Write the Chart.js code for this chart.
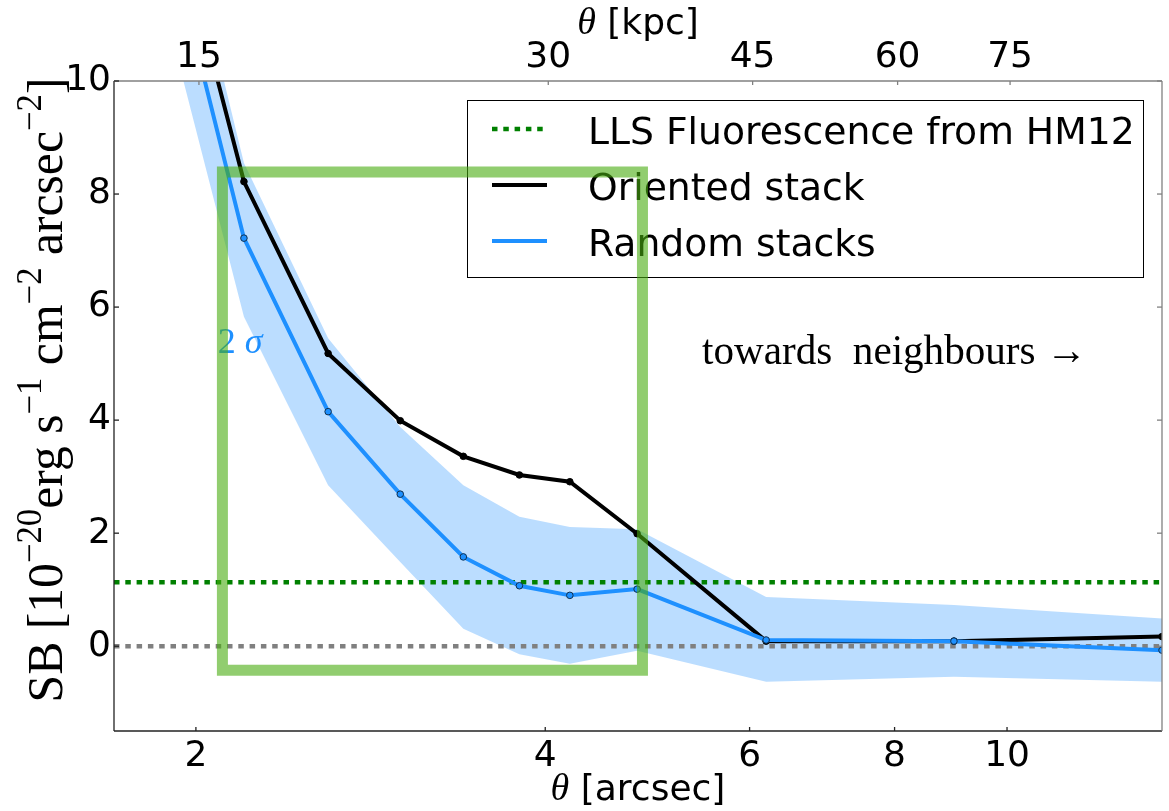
<!DOCTYPE html>
<html><head><meta charset="utf-8">
<script src="https://cdn.jsdelivr.net/npm/chart.js@4/dist/chart.umd.min.js"></script>
<style>html,body{margin:0;padding:0;background:#fff}canvas{display:block}</style>
</head><body>
<canvas id="c" width="1169" height="811"></canvas>
<script>
// ---------------- data ----------------
const thetaArcsec = [1.8, 2.2, 2.6, 3.0, 3.4, 3.8, 4.2, 4.8, 6.2, 9.0, 13.6];
const orientedSB  = [15.1, 8.22, 5.18, 3.99, 3.36, 3.03, 2.91, 1.99, 0.09, 0.09, 0.17];
const randomSB    = [14.4, 7.22, 4.15, 2.69, 1.58, 1.07, 0.90, 1.01, 0.11, 0.09, -0.07];
const randomUpper = [15.9, 8.55, 5.45, 3.88, 2.85, 2.29, 2.11, 2.07, 0.87, 0.73, 0.49];
const randomLower = [12.8, 5.83, 2.85, 1.49, 0.31, -0.14, -0.31, -0.08, -0.63, -0.54, -0.63];
const llsLevel = 1.13;
const zeroLevel = 0;
const xTicksArcsec = [2, 4, 6, 8, 10];
const xTicksKpc = [15, 30, 45, 60, 75];
const yTicks = [0, 2, 4, 6, 8, 10];
const kpcPerArcsec = 7.455;
const xRange = [1.7, 13.6];
const yRange = [-1.5, 10];
const boxRegionX = [2.108, 4.851];
const boxRegionY = [-0.425, 8.39];
const seriesLabels = ['LLS Fluorescence from HM12', 'Oriented stack', 'Random stacks'];
const bottomTitle = ['θ', ' [arcsec]'];
const topTitle = ['θ', ' [kpc]'];
const yTitleParts = [['SB [10', 0], ['−20', 1], ['erg s', 0], ['−1', 1], [' cm', 0], ['−2', 1], [' arcsec', 0], ['−2', 1], [']', 0]];
const sigmaText = ['2', ' σ'];
const neighbourText = 'towards  neighbours →';

// ---------------- styles / layout ----------------
const SANS = '"DejaVu Sans", sans-serif';
const SERIF = '"Liberation Serif", "DejaVu Serif", serif';
const BLUE = '#1E90FF';
const notePos = { sigma: {x: 2.089, y: 5.19}, neighbours: {x: 5.46, y: 4.99} };
const legendBox = {left: 467, top: 100, right: 1143, bottom: 277, x0: 492, x1: 547, tx: 588, rows: [129, 185, 241]};

const pts = (ys) => thetaArcsec.map((x, i) => ({x, y: ys[i]}));
const hline = (v) => [{x: xRange[0], y: v}, {x: xRange[1], y: v}];

function runsWidth(ctx, runs) {
  let w = 0;
  for (const r of runs) { ctx.font = r.font; r.w = ctx.measureText(r.text).width; w += r.w; }
  return w;
}
function drawRuns(ctx, runs, x, y) {
  let cx = x;
  for (const r of runs) {
    ctx.font = r.font; ctx.fillStyle = r.color || '#000';
    ctx.fillText(r.text, cx, y - (r.rise || 0));
    cx += r.w;
  }
}

const decor = {
  id: 'decor',
  afterDatasetsDraw(chart) {
    const {ctx, chartArea: a, scales} = chart;
    const xs = scales.x, xt = scales.xTop, ys = scales.y;
    const line = (x0, y0, x1, y1) => { ctx.beginPath(); ctx.moveTo(x0, y0); ctx.lineTo(x1, y1); ctx.stroke(); };
    ctx.save();
    ctx.textBaseline = 'alphabetic';
    ctx.textAlign = 'left';

    // annotations
    const sx = xs.getPixelForValue(notePos.sigma.x), sy = ys.getPixelForValue(notePos.sigma.y);
    const sr = [{text: sigmaText[0], font: '36px ' + SERIF, color: BLUE}, {text: sigmaText[1], font: 'italic 36px ' + SERIF, color: BLUE}];
    runsWidth(ctx, sr); drawRuns(ctx, sr, sx, sy);

    const nx = xs.getPixelForValue(notePos.neighbours.x), ny = ys.getPixelForValue(notePos.neighbours.y);
    ctx.font = '40px ' + SERIF;
    const nw = ctx.measureText(neighbourText).width;
    const nsize = 40 * 385 / nw;
    ctx.font = nsize.toFixed(2) + 'px ' + SERIF;
    ctx.fillStyle = '#000';
    ctx.fillText(neighbourText, nx, ny);

    // legend
    const L = legendBox;
    ctx.fillStyle = '#fff';
    ctx.fillRect(L.left, L.top, L.right - L.left, L.bottom - L.top);
    ctx.strokeStyle = '#000'; ctx.lineWidth = 1;
    ctx.strokeRect(L.left + 0.5, L.top + 0.5, L.right - L.left, L.bottom - L.top);
    const legendSets = [chart.data.datasets[2], chart.data.datasets[1], chart.data.datasets[0]];
    legendSets.forEach((ds, i) => {
      const y = L.rows[i];
      ctx.strokeStyle = ds.borderColor; ctx.lineWidth = ds.borderWidth;
      ctx.setLineDash(ds.borderDash || []);
      line(L.x0, y, L.x1, y);
      ctx.setLineDash([]);
      ctx.font = '37.7px ' + SANS; ctx.fillStyle = '#000';
      ctx.fillText(ds.label, L.tx, y + 14.5);
    });

    // green rectangle
    const rx0 = xs.getPixelForValue(boxRegionX[0]), rx1 = xs.getPixelForValue(boxRegionX[1]);
    const ry0 = ys.getPixelForValue(boxRegionY[1]), ry1 = ys.getPixelForValue(boxRegionY[0]);
    ctx.strokeStyle = 'rgba(72,172,15,0.6)'; ctx.lineWidth = 11; ctx.lineJoin = 'miter';
    ctx.strokeRect(rx0, ry0, rx1 - rx0, ry1 - ry0);

    // frame
    ctx.lineWidth = 1.3;
    ctx.strokeStyle = '#222';
    line(a.left, a.top, a.left, a.bottom);
    line(a.left, a.bottom, a.right, a.bottom);
    ctx.strokeStyle = '#808080';
    line(a.left, a.top, a.right, a.top);
    line(a.right, a.top, a.right, a.bottom);
    // inner ticks
    ctx.strokeStyle = '#222';
    xTicksArcsec.forEach(v => { const p = xs.getPixelForValue(v); line(p, a.bottom, p, a.bottom - 4); });
    yTicks.forEach(v => { const p = ys.getPixelForValue(v); line(a.left, p, a.left + 5, p); });
    ctx.strokeStyle = '#808080';
    xTicksKpc.forEach(v => { const p = xt.getPixelForValue(v); line(p, a.top, p, a.top + 4); });
    yTicks.forEach(v => { const p = ys.getPixelForValue(v); line(a.right, p, a.right - 5, p); });

    // axis titles
    const cx = (a.left + a.right) / 2;
    const bt = [{text: bottomTitle[0], font: 'italic 38px ' + SERIF}, {text: bottomTitle[1], font: '36px ' + SANS}];
    const bw = runsWidth(ctx, bt); drawRuns(ctx, bt, cx - bw / 2, 800);
    const tt = [{text: topTitle[0], font: 'italic 38px ' + SERIF}, {text: topTitle[1], font: '36px ' + SANS}];
    const tw = runsWidth(ctx, tt); drawRuns(ctx, tt, cx - tw / 2, 34);

    // y title (rotated, with superscripts)
    let base = 40;
    const mk = (s) => yTitleParts.map(([t, sup]) => ({text: t, font: (sup ? (s * 0.7).toFixed(2) : s.toFixed(2)) + 'px ' + SERIF, rise: sup ? s * 0.42 : 0}));
    let runs = mk(base);
    let w = runsWidth(ctx, runs);
    const size = base * 625 / w;
    runs = mk(size); w = runsWidth(ctx, runs);
    ctx.translate(62, 390);
    ctx.rotate(-Math.PI / 2);
    drawRuns(ctx, runs, -w / 2, 0);
    ctx.restore();
  }
};

new Chart(document.getElementById('c'), {
  type: 'line',
  data: {
    datasets: [
      {label: seriesLabels[2], data: pts(randomSB), borderColor: BLUE, borderWidth: 4,
       pointRadius: 3.3, pointBackgroundColor: BLUE, pointBorderColor: '#10304f', pointBorderWidth: 1,
       order: 1, clip: 0, fill: false},
      {label: seriesLabels[1], data: pts(orientedSB), borderColor: '#000', borderWidth: 4,
       pointRadius: 3.3, pointBackgroundColor: '#000', pointBorderColor: '#000', pointBorderWidth: 1,
       order: 2, clip: 0, fill: false},
      {label: seriesLabels[0], data: hline(llsLevel), borderColor: '#008000', borderWidth: 4.5,
       borderDash: [5.5, 5.8], pointRadius: 0, order: 3, clip: 0, fill: false},
      {label: 'zero', data: hline(zeroLevel), borderColor: '#808080', borderWidth: 4.5,
       borderDash: [5.5, 5.8], pointRadius: 0, order: 4, clip: 0, fill: false},
      {label: '2σ upper', data: pts(randomUpper), borderColor: 'rgba(0,0,0,0)', borderWidth: 0,
       pointRadius: 0, fill: '+1', backgroundColor: 'rgba(30,144,255,0.3)', order: 5, clip: 0},
      {label: '2σ lower', data: pts(randomLower), borderColor: 'rgba(0,0,0,0)', borderWidth: 0,
       pointRadius: 0, fill: false, order: 6, clip: 0}
    ]
  },
  options: {
    responsive: false, animation: false, devicePixelRatio: 1, events: [],
    layout: {padding: {left: 0, right: 7, top: 0, bottom: 0}},
    plugins: {legend: {display: false}, tooltip: {enabled: false}},
    elements: {line: {tension: 0}},
    scales: {
      x: {type: 'logarithmic', position: 'bottom', min: xRange[0], max: xRange[1],
          grid: {display: false, drawTicks: false}, border: {display: false},
          afterBuildTicks: (s) => { s.ticks = xTicksArcsec.map(v => ({value: v})); },
          afterFit: (s) => { s.height = 80; },
          ticks: {autoSkip: false, maxRotation: 0, padding: 4, color: '#000',
                  font: {family: SANS, size: 36}, callback: (v) => String(v)}},
      xTop: {type: 'logarithmic', position: 'top', min: xRange[0] * kpcPerArcsec, max: xRange[1] * kpcPerArcsec,
          grid: {display: false, drawTicks: false}, border: {display: false},
          afterBuildTicks: (s) => { s.ticks = xTicksKpc.map(v => ({value: v})); },
          afterFit: (s) => { s.height = 81; },
          ticks: {autoSkip: false, maxRotation: 0, padding: 2, color: '#000',
                  font: {family: SANS, size: 36}, callback: (v) => String(v)}},
      y: {type: 'linear', min: yRange[0], max: yRange[1],
          grid: {display: false, drawTicks: false}, border: {display: false},
          afterBuildTicks: (s) => { s.ticks = yTicks.map(v => ({value: v})); },
          afterFit: (s) => { s.width = 114; },
          ticks: {autoSkip: false, padding: 3, color: '#000',
                  font: {family: SANS, size: 36}, callback: (v) => String(v)}}
    }
  },
  plugins: [decor]
});
</script>
</body></html>
